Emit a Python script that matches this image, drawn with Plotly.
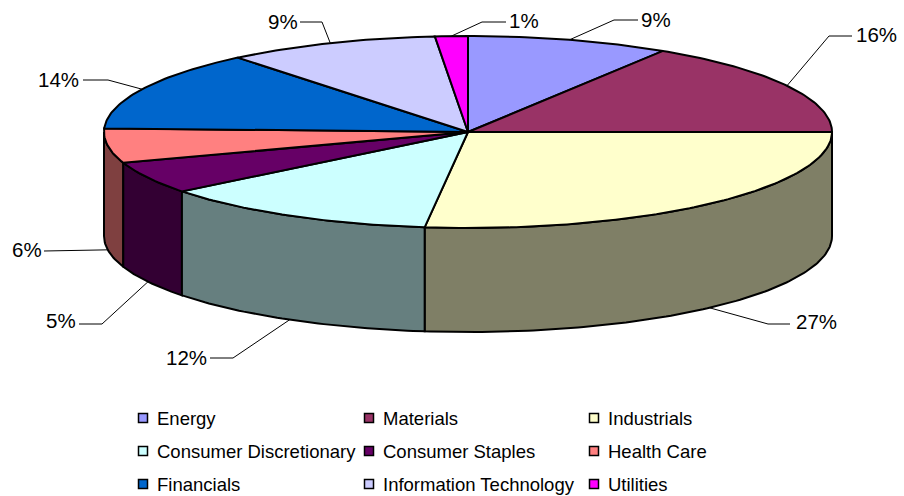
import math
import plotly.graph_objects as go

categories = ["Energy", "Materials", "Industrials", "Consumer Discretionary", "Consumer Staples",
              "Health Care", "Financials", "Information Technology", "Utilities"]
shares = [9.0, 16.0, 26.9, 12.49, 5.41, 5.8, 13.5, 9.45, 1.45]
top_colors = ["#9999FF", "#993366", "#FFFFCC", "#CCFFFF", "#660066", "#FF8080", "#0066CC", "#CCCCFF", "#FF00FF"]

# Drawing geometry (pixels of the page), not data
CX, CY, RX, RY, DEPTH = 468, 132, 364, 96, 104
FONT = "Liberation Sans, Arial, sans-serif"
LABEL_FONT_SIZE = 20.5
LEGEND_FONT_SIZE = 18.5
# elbow + end of each leader line, then the label's anchor
LEADERS = [
    ((614, 20), (638, 20), (639, 19, "left")),
    ((829, 36), (852, 36), (854, 34, "left")),
    ((768, 324), (790, 324), (794, 321, "left")),
    ((233, 358), (210, 358), (209, 357, "right")),
    ((102, 324), (79, 324), (78, 320, "right")),
    ((44, 251), (44, 251), (44, 249, "right")),
    ((108, 80), (83, 80), (81, 79, "right")),
    ((322, 22), (300, 22), (300, 21, "right")),
    ((482, 22), (506, 22), (507, 20, "left")),
]
LEGEND_X = [143, 369, 594]
LEGEND_TEXT_GAP = 12
LEGEND_Y = [418, 451, 484]


def rim(pct, drop=0.0):
    a = math.radians(pct * 3.6)
    return CX + RX * math.sin(a), CY - RY * math.cos(a) + drop


def arc(p0, p1, drop=0.0):
    n = max(2, int(abs(p1 - p0) * 4))
    pts = [rim(p0 + (p1 - p0) * i / n, drop) for i in range(n + 1)]
    return [p[0] for p in pts], [p[1] for p in pts]


def darken(c):
    r, g, b = int(c[1:3], 16), int(c[3:5], 16), int(c[5:7], 16)
    return f"rgb({r // 2},{g // 2},{b // 2})"


fig = go.Figure()
starts, total = [], 0.0
for s in shares:
    starts.append(total)
    total += s
total_share = total
pct = [100 * s / total_share for s in shares]
starts = [100 * s / total_share for s in starts]

# Side walls: only the front half of the rim (25%..75%) shows
order = sorted(range(len(pct)), key=lambda i: -abs(starts[i] + pct[i] / 2 - 50))
for i in order:
    p0 = max(starts[i], 25.0)
    p1 = min(starts[i] + pct[i], 75.0)
    if p1 <= p0:
        continue
    xs, ys = arc(p0, p1)
    xb, yb = arc(p1, p0, DEPTH)
    fig.add_trace(go.Scatter(x=xs + xb + [xs[0]], y=ys + yb + [ys[0]], mode="lines", fill="toself",
                             fillcolor=darken(top_colors[i]), line=dict(color="#000000", width=2),
                             hoverinfo="skip", showlegend=False))

# Top wedges
for i, name in enumerate(categories):
    xs, ys = arc(starts[i], starts[i] + pct[i])
    fig.add_trace(go.Scatter(x=[CX] + xs + [CX], y=[CY] + ys + [CY], mode="lines", fill="toself",
                             fillcolor=top_colors[i], line=dict(color="#000000", width=2),
                             name=name, text=f"{name}: {round(shares[i])}%", hoverinfo="text", showlegend=False))

# Leader lines and percentage labels
annotations = []
for i, (elbow, end, lab) in enumerate(LEADERS):
    mid = starts[i] + pct[i] / 2
    drop = DEPTH if 25 < mid < 75 else 0
    sx, sy = rim(mid, drop)
    fig.add_trace(go.Scatter(x=[sx, elbow[0], end[0]], y=[sy, elbow[1], end[1]], mode="lines",
                             line=dict(color="#000000", width=1), hoverinfo="skip", showlegend=False))
    annotations.append(dict(x=lab[0], y=lab[1], xref="x", yref="y", text=f"{round(shares[i])}%", showarrow=False,
                            xanchor=lab[2], yanchor="middle", xshift=0,
                            font=dict(family=FONT, size=LABEL_FONT_SIZE, color="#000000")))

# Legend grid, reading order: three columns by three rows
for i, name in enumerate(categories):
    lx, ly = LEGEND_X[i % 3], LEGEND_Y[i // 3]
    fig.add_trace(go.Scatter(x=[lx], y=[ly], mode="markers", hoverinfo="skip", showlegend=False,
                             marker=dict(symbol="square", size=9, color=top_colors[i],
                                         line=dict(color="#000000", width=1.5))))
    annotations.append(dict(x=lx + LEGEND_TEXT_GAP, y=ly, xref="x", yref="y", text=name, showarrow=False,
                            xanchor="left", yanchor="middle",
                            font=dict(family=FONT, size=LEGEND_FONT_SIZE, color="#000000")))

fig.update_layout(
    width=904, height=496, margin=dict(l=0, r=0, t=0, b=0),
    paper_bgcolor="#FFFFFF", plot_bgcolor="#FFFFFF", showlegend=False,
    xaxis=dict(range=[0, 904], visible=False, fixedrange=True),
    yaxis=dict(range=[496, 0], visible=False, fixedrange=True),
    annotations=annotations,
)
fig.write_html("out.html", config=dict(displayModeBar=False),
               post_script="document.body.style.margin='0';document.documentElement.style.overflow='hidden';")
